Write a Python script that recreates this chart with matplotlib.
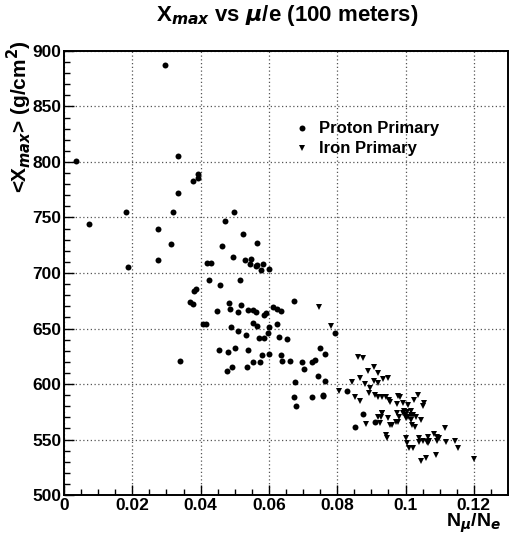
import numpy as np
import matplotlib
matplotlib.use("Agg")
import matplotlib.pyplot as plt
from matplotlib.ticker import MultipleLocator

# proton primaries: N_mu/N_e , <Xmax>
proton_x = [0.0297, 0.0035, 0.0335, 0.0335, 0.0181, 0.0318, 0.0074, 0.0276, 0.0312, 0.0276,
            0.0186, 0.0392, 0.0392, 0.0378, 0.0471, 0.0499, 0.0525, 0.0566, 0.0463, 0.0495,
            0.0529, 0.0548, 0.0420, 0.0429, 0.0546, 0.0562, 0.0566, 0.0584, 0.0576, 0.0601,
            0.0425, 0.0516, 0.0457, 0.0388, 0.0380, 0.0370, 0.0377, 0.0673, 0.0484, 0.0517,
            0.0487, 0.0448, 0.0539, 0.0553, 0.0563, 0.0509, 0.0611, 0.0623, 0.0636, 0.0592,
            0.0586, 0.0407, 0.0415, 0.0553, 0.0623, 0.0489, 0.0564, 0.0601, 0.0509, 0.0596,
            0.0533, 0.0794, 0.0572, 0.0587, 0.0631, 0.0654, 0.0455, 0.0481, 0.0502, 0.0539,
            0.0751, 0.0765, 0.0341, 0.0580, 0.0600, 0.0634, 0.0552, 0.0573, 0.0639, 0.0662,
            0.0698, 0.0726, 0.0736, 0.0492, 0.0476, 0.0535, 0.0704, 0.0744, 0.0765, 0.0677,
            0.0830, 0.0673, 0.0679, 0.0725, 0.0757, 0.0759, 0.0851, 0.0876, 0.0912]
proton_y = [887, 801, 805, 772, 755, 755, 744, 740, 726, 712,
            705, 789, 786, 783, 747, 755, 735, 727, 724, 714,
            712, 713, 709, 709, 708, 706, 707, 708, 703, 704,
            694, 694, 689, 686, 684, 674, 672, 674.5, 673, 671,
            668, 666, 667, 667, 665, 665, 669, 668, 665.5, 664,
            662.5, 654, 654, 655, 654, 651, 652, 651, 648, 646,
            644, 646, 641, 641, 642, 640.5, 631, 629, 632, 631,
            632, 627, 621, 626, 627, 626, 619.5, 620, 620.5, 621,
            620, 620, 621.5, 615, 612, 615, 613.5, 607, 603, 601.5,
            594, 588, 580.5, 588, 590, 589, 561, 573, 566]

# iron primaries
iron_x = [0.0746, 0.0781, 0.0805, 0.0844, 0.0851, 0.0860, 0.0875, 0.0866, 0.0866, 0.0881,
          0.0885, 0.0890, 0.0909, 0.0920, 0.0897, 0.0893, 0.0907, 0.0919, 0.0934, 0.0948,
          0.0910, 0.0919, 0.0930, 0.0942, 0.0951, 0.0956, 0.0977, 0.0984, 0.0974, 0.0993,
          0.1007, 0.1026, 0.1036, 0.1053, 0.1050, 0.0920, 0.0932, 0.0948, 0.0925, 0.0961,
          0.0975, 0.0982, 0.0977, 0.0993, 0.0998, 0.1001, 0.1007, 0.1017, 0.1023, 0.1030,
          0.1015, 0.1020, 0.1027, 0.1044, 0.1116, 0.0942, 0.0945, 0.1002, 0.1003, 0.1010,
          0.1023, 0.1039, 0.1039, 0.1052, 0.1062, 0.1068, 0.1067, 0.1065, 0.1083, 0.1091,
          0.1093, 0.1098, 0.1118, 0.1146, 0.1153, 0.1046, 0.1061, 0.1090, 0.1200, 0.0995,
          0.1005, 0.1017, 0.0931, 0.0929, 0.0971, 0.0956]
iron_y = [669, 652, 594, 602, 588.5, 624, 623, 605, 585, 600,
          564, 612, 615, 609.5, 596, 592, 602.5, 601, 604.5, 605.5,
          590, 588, 588.5, 588, 585.5, 584, 589, 588, 582, 583,
          581.5, 586, 590.5, 583, 580, 570, 573.5, 569.5, 565, 563,
          573.5, 570.5, 565.5, 574, 572, 569.5, 570.5, 572.5, 572, 570.5,
          567.5, 563.5, 561.5, 567.5, 560, 554.5, 551, 551, 546.5, 542,
          542, 551, 547.5, 549, 547.5, 549, 552, 546.5, 555, 552,
          549, 551, 547.5, 549, 542.5, 531, 533, 536, 532.5, 576,
          575, 575.5, 574, 570, 566, 563]

plt.rcParams['font.family'] = ['Liberation Sans', 'DejaVu Sans']
plt.rcParams['font.weight'] = 'bold'

fig = plt.figure(figsize=(5.09, 5.39), dpi=100)
ax = fig.add_axes([0.1257, 0.0816, 0.998 - 0.1257, 0.9054 - 0.0816])

ax.plot(proton_x, proton_y, 'o', color='black', markersize=4.3, markeredgewidth=0,
        label='Proton Primary')
ax.plot(iron_x, iron_y, 'v', color='black', markersize=4.5, markeredgewidth=0,
        label='Iron Primary')

ax.set_xlim(0, 0.13)
ax.set_ylim(500, 900)
ax.xaxis.set_minor_locator(MultipleLocator(0.005))
ax.yaxis.set_major_locator(MultipleLocator(50))
ax.yaxis.set_minor_locator(MultipleLocator(10))
ax.set_xticks([0, 0.02, 0.04, 0.06, 0.08, 0.1, 0.12])
ax.set_xticklabels(['0', '0.02', '0.04', '0.06', '0.08', '0.1', '0.12'])

ax.tick_params(which='both', direction='in', top=False, right=False,
               labelsize=12.5, width=1)
ax.tick_params(which='major', length=7, pad=2)
ax.tick_params(which='minor', length=4)
for lbl in ax.get_xticklabels() + ax.get_yticklabels():
    lbl.set_fontweight('bold')

ax.grid(True, which='major', color='#555555', linestyle=(0, (1, 2)), linewidth=0.9)
for sp in ax.spines.values():
    sp.set_linewidth(1.4)

fig.text(0.565, 0.972, r'X$_{max}$ vs $\mu$/e (100 meters)', ha='center', va='center',
         fontsize=16, fontweight='bold')
ax.set_ylabel(r'<X$_{max}$> (g/cm$^{2}$)', fontsize=15, fontweight='bold')
ax.yaxis.set_label_coords(-0.068, 1.025)
ax.yaxis.label.set_ha('right')
ax.set_xlabel(r'N$_{\mu}$/N$_{e}$', fontsize=14, fontweight='bold')
ax.xaxis.set_label_coords(0.985, -0.038)
ax.xaxis.label.set_ha('right')

ax.legend(loc='upper left', bbox_to_anchor=(0.48, 0.875), frameon=False,
          handletextpad=0.4, labelspacing=0.3, handlelength=1.2,
          prop={'weight': 'bold', 'size': 12})

fig.savefig('out.png', dpi=100)
